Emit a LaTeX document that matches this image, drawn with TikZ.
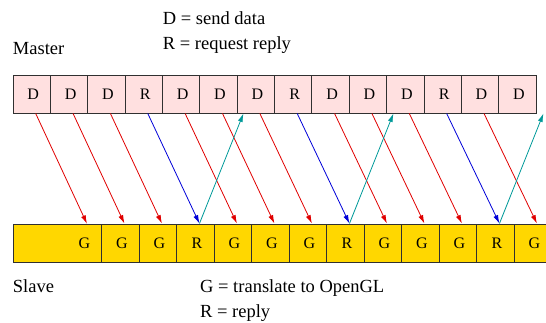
\documentclass[tikz,border=0pt]{standalone}
\usepackage{fontspec}
\setmainfont{Liberation Serif}
\usetikzlibrary{arrows.meta,calc}
\definecolor{masterfill}{HTML}{FFE0E0}
\definecolor{slavefill}{HTML}{FFD700}
\definecolor{cellline}{HTML}{303030}
\definecolor{datared}{HTML}{E00000}
\definecolor{reqblue}{HTML}{0000D8}
\definecolor{replyteal}{HTML}{009999}
\begin{document}
\begin{tikzpicture}[x=1pt,y=-1pt,
  cellfont/.style={font=\fontsize{16}{16}\selectfont},
  mcell/.style={draw=cellline, fill=masterfill, line width=0.9pt,
    minimum width=37.36pt, minimum height=38pt, inner sep=0pt, cellfont},
  scell/.style={draw=cellline, fill=slavefill, line width=0.9pt,
    minimum width=37.5pt, minimum height=38pt, inner sep=0pt, cellfont},
  legend/.style={anchor=base west, inner sep=0pt, font=\fontsize{18.5}{18.5}\selectfont},
  msg/.style={line width=0.8pt, -{Latex[length=8.5pt,width=5pt]}},
]
\useasboundingbox (0,0) rectangle (546,322);
\clip (0,0) rectangle (546,322);

% legends
\node[legend] (lmaster) at (12.7,54) {Master};
\node[legend] (ld) at (162.7,24.5) {D = send data};
\node[legend] (lr) at (162.7,49) {R = request reply};
\node[legend] (lslave) at (12.7,292) {Slave};
\node[legend] (lg) at (200,292) {G = translate to OpenGL};
\node[legend] (lrep) at (200,317) {R = reply};

% master queue
\foreach \t [count=\i from 0] in {D,D,D,R,D,D,D,R,D,D,D,R,D,D}
  \node[mcell] (m\i) at ({13+37.36*(\i+0.5)},94) {\hspace{3pt}\t};

% slave queue
\node[scell, minimum width=88.7pt, anchor=west] (sw) at (13,243) {};
\node[minimum height=38pt, inner sep=0pt, cellfont] (s0) at (83,243) {\hspace{3pt}G};
\foreach \t [count=\k from 1] in {G,G,R,G,G,G,R,G,G,G,R,G}
  \node[scell] (s\k) at ({101.7+37.5*(\k-0.5)},243) {\hspace{3pt}\t};

% data messages
\foreach \i in {0,1,2,4,5,6,8,9,10,12}
  \draw[msg,datared] ([xshift=4pt]m\i.south) -- ([xshift=4pt]s\i.north);
% reply requests
\foreach \i in {3,7,11}
  \draw[msg,reqblue] ([xshift=4pt]m\i.south) -- ([xshift=4pt]s\i.north);
% replies
\foreach \i in {3,7,11}
  \draw[msg,replyteal] ([xshift=4pt]s\i.north) -- ($(s\i.north |- m\i.south)+(48pt,0)$);
\end{tikzpicture}
\end{document}
